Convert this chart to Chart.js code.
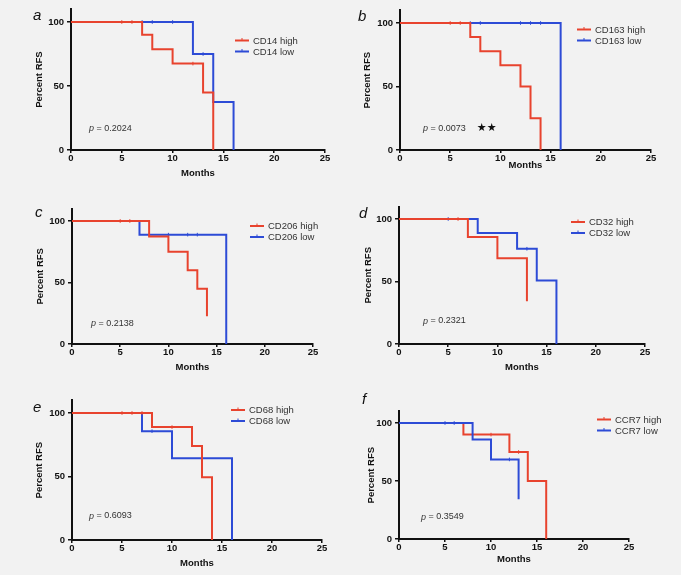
<!DOCTYPE html>
<html>
<head>
<meta charset="utf-8">
<script src="https://cdn.jsdelivr.net/npm/chart.js@4.4.0/dist/chart.umd.min.js"></script>
<style>
  html, body { margin: 0; padding: 0; background: #f2f2f2; }
  #wrap { position: relative; width: 681px; height: 575px; background: #f2f2f2; overflow: hidden; }
  #wrap canvas { position: absolute; left: 0; top: 0; }
</style>
</head>
<body>
<div id="wrap"></div>
<script>
// axis ticks
const monthTicks = [0, 5, 10, 15, 20, 25];
const rfsTicks = [0, 50, 100];

const panelLetters = ['a', 'b', 'c', 'd', 'e', 'f'];
const markers = ['CD14', 'CD163', 'CD206', 'CD32', 'CD68', 'CCR7'];
const pValues = ['0.2024', '0.0073', '0.2138', '0.2321', '0.6093', '0.3549'];
const stars = ['', '★★', '', '', '', ''];

// "high" group: step times (months) and percent RFS after each step
const highTimes = [
  [0, 7, 8, 10, 13, 14],
  [0, 7, 8, 10, 12, 13, 14],
  [0, 8, 10, 12, 13, 14],
  [0, 7, 10, 13],
  [0, 8, 12, 13, 14],
  [0, 7, 12, 14, 16]
];
const highSurv = [
  [100, 90, 78.8, 67.5, 45, 0],
  [100, 88.9, 77.8, 66.7, 50, 25, 0],
  [100, 87.5, 75, 60, 45, 22.5],
  [100, 85.7, 68.6, 34.3],
  [100, 88.9, 74.1, 49.4, 0],
  [100, 90, 75, 50, 0]
];
const highCensor = [
  [5, 6, 12],
  [5, 6],
  [5, 6],
  [6],
  [5, 6, 7, 10],
  [10, 13]
];

// "low" group
const lowTimes = [
  [0, 12, 14, 16],
  [0, 16],
  [0, 7, 16],
  [0, 8, 12, 14, 16],
  [0, 7, 10, 16],
  [0, 8, 10, 13]
];
const lowSurv = [
  [100, 75, 37.5, 0],
  [100, 0],
  [100, 88.9, 0],
  [100, 88.9, 76.2, 50.8, 0],
  [100, 85.7, 64.3, 0],
  [100, 85.7, 68.6, 34.3]
];
const lowCensor = [
  [7, 8, 10, 13],
  [7, 8, 12, 13, 14],
  [10, 12, 13],
  [5, 13],
  [8],
  [5, 6, 12]
];

// which group is drawn on top
const highOnTop = [true, true, true, true, true, false];

// page layout (px): y axis x, x=25 x, y=100 y, y=0 y
const geometry = [
  { L: 71, R: 325, y100: 22, B: 150 },
  { L: 400, R: 651, y100: 23, B: 150 },
  { L: 72, R: 313, y100: 221, B: 344 },
  { L: 399, R: 645, y100: 219, B: 344 },
  { L: 72, R: 322, y100: 413, B: 540 },
  { L: 399, R: 629, y100: 423, B: 539 }
];
const letterPos = [[33, 20], [358, 21], [35, 217], [359, 218], [33, 412], [362, 404]];
const legendPos = [[235, 40.5], [577, 29.5], [250, 226], [571, 222], [231, 410], [597, 419.5]];
const pPos = [[89, 128.5], [423, 128.5], [91, 323.5], [423, 321], [89, 516], [421, 517]];
const yTitleX = [39, 367, 40, 368, 39, 371];
const xTitleGap = [23, 15, 23, 23, 23, 20];
const xLabelGap = [8, 7, 8, 8, 8, 8];

const RED = '#e8432e';
const BLUE = '#2d4bd6';
const FONT = '"Liberation Sans", Arial, Helvetica, sans-serif';

function survAt(times, surv, t) {
  let v = surv[0];
  for (let i = 0; i < times.length; i++) {
    if (times[i] <= t) v = surv[i];
  }
  return v;
}

function stepPoints(times, surv) {
  return times.map((t, i) => ({ x: t, y: surv[i] }));
}

function censorPoints(times, surv, cens) {
  return cens.map(t => ({ x: t, y: survAt(times, surv, t) }));
}

// letters, legend and p value
const annotate = {
  id: 'annotate',
  afterDraw(chart, args, opts) {
    const i = opts.idx;
    const ctx = chart.ctx;
    ctx.save();

    ctx.fillStyle = '#111';
    ctx.textBaseline = 'alphabetic';
    ctx.font = 'italic 15px ' + FONT;
    ctx.fillText(panelLetters[i], letterPos[i][0], letterPos[i][1]);

    const [lx, ly] = legendPos[i];
    const entries = [[markers[i] + ' high', RED], [markers[i] + ' low', BLUE]];
    entries.forEach(([label, col], k) => {
      const y = ly + k * 11;
      ctx.strokeStyle = col;
      ctx.lineWidth = 2;
      ctx.beginPath();
      ctx.moveTo(lx, y);
      ctx.lineTo(lx + 14, y);
      ctx.stroke();
      ctx.lineWidth = 1;
      ctx.beginPath();
      ctx.moveTo(lx + 7, y - 2.5);
      ctx.lineTo(lx + 7, y);
      ctx.stroke();
      ctx.fillStyle = '#333';
      ctx.font = '9.5px ' + FONT;
      ctx.textBaseline = 'middle';
      ctx.fillText(label, lx + 18, y + 0.5);
    });

    const [px, py] = pPos[i];
    ctx.fillStyle = '#333';
    ctx.textBaseline = 'middle';
    ctx.font = 'italic 9px ' + FONT;
    ctx.fillText('p', px, py);
    const pw = ctx.measureText('p').width;
    ctx.font = '9px ' + FONT;
    ctx.fillText(' = ' + pValues[i], px + pw, py);
    if (stars[i]) {
      const w = ctx.measureText(' = ' + pValues[i]).width;
      ctx.fillStyle = '#111';
      ctx.font = 'bold 11px "DejaVu Sans", sans-serif';
      ctx.fillText(stars[i], px + pw + w + 11, py - 0.5);
    }
    ctx.restore();
  }
};

const wrap = document.getElementById('wrap');

geometry.forEach((g, i) => {
  const canvas = document.createElement('canvas');
  canvas.width = 681;
  canvas.height = 575;
  wrap.appendChild(canvas);

  const T = g.B - (g.B - g.y100) * 1.1;
  const yW = 50;
  const xH = 35;

  const hi = highOnTop[i] ? 0 : 2;
  const lo = highOnTop[i] ? 2 : 0;

  new Chart(canvas, {
    type: 'line',
    data: {
      datasets: [
        {
          label: markers[i] + ' high',
          data: stepPoints(highTimes[i], highSurv[i]),
          borderColor: RED,
          borderWidth: 2,
          stepped: 'before',
          pointRadius: 0,
          fill: false,
          order: hi + 1
        },
        {
          label: markers[i] + ' high censored',
          data: censorPoints(highTimes[i], highSurv[i], highCensor[i]),
          showLine: false,
          pointStyle: 'line',
          rotation: 90,
          pointRadius: 1.8,
          borderColor: RED,
          pointBorderWidth: 1,
          order: hi
        },
        {
          label: markers[i] + ' low',
          data: stepPoints(lowTimes[i], lowSurv[i]),
          borderColor: BLUE,
          borderWidth: 2,
          stepped: 'before',
          pointRadius: 0,
          fill: false,
          order: lo + 1
        },
        {
          label: markers[i] + ' low censored',
          data: censorPoints(lowTimes[i], lowSurv[i], lowCensor[i]),
          showLine: false,
          pointStyle: 'line',
          rotation: 90,
          pointRadius: 1.8,
          borderColor: BLUE,
          pointBorderWidth: 1,
          order: lo
        }
      ]
    },
    options: {
      responsive: false,
      animation: false,
      events: [],
      layout: {
        padding: { left: g.L - yW, top: T, right: 681 - g.R, bottom: 575 - g.B - xH }
      },
      plugins: {
        legend: { display: false },
        tooltip: { enabled: false },
        annotate: { idx: i }
      },
      scales: {
        x: {
          type: 'linear',
          min: 0,
          max: 25,
          afterBuildTicks: (axis) => { axis.ticks = monthTicks.map(v => ({ value: v })); },
          afterFit: (axis) => { axis.height = xH; },
          border: { display: true, color: '#111', width: 2 },
          grid: { drawOnChartArea: false, drawTicks: true, tickLength: 3, color: '#111', lineWidth: 1.5 },
          ticks: {
            color: '#111',
            padding: Math.max(0, xLabelGap[i] - 8),
            font: { family: FONT, size: 9.5, weight: 'bold' },
            maxRotation: 0
          },
          title: {
            display: true,
            text: 'Months',
            color: '#111',
            font: { family: FONT, size: 9.5, weight: 'bold' },
            padding: { top: 0, bottom: xH - xTitleGap[i] - 5.7 }
          }
        },
        y: {
          type: 'linear',
          min: 0,
          max: 110,
          afterBuildTicks: (axis) => { axis.ticks = rfsTicks.map(v => ({ value: v })); },
          afterFit: (axis) => { axis.width = yW; },
          border: { display: true, color: '#111', width: 2 },
          grid: { drawOnChartArea: false, drawTicks: true, tickLength: 4, color: '#111', lineWidth: 1.5 },
          ticks: {
            color: '#111',
            padding: 3,
            font: { family: FONT, size: 9.5, weight: 'bold' }
          },
          title: {
            display: true,
            text: 'Percent RFS',
            color: '#111',
            font: { family: FONT, size: 9.5, weight: 'bold' },
            padding: { top: yTitleX[i] - (g.L - yW) - 5.7, bottom: 0 }
          }
        }
      }
    },
    plugins: [annotate]
  });
});
</script>
</body>
</html>
